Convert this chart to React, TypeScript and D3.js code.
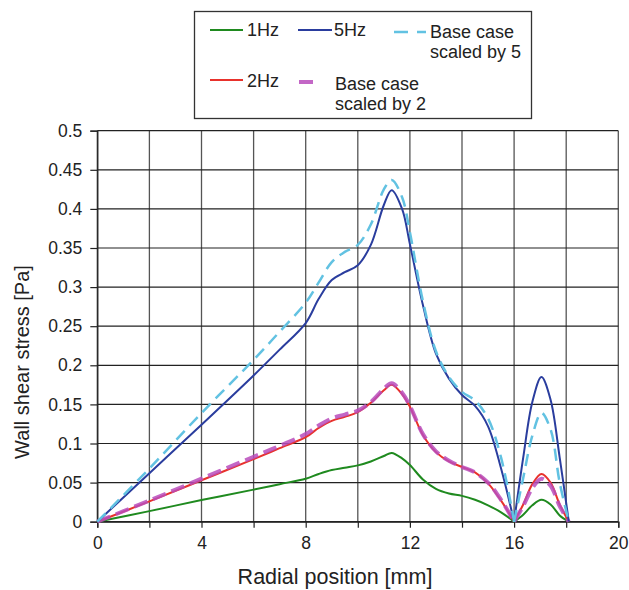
import React, { useEffect, useRef } from "react";
import * as d3 from "d3";

// radial positions (mm) for the main part of the wall and the small outer bump
const xMain = [0, 2, 4, 6, 7, 8, 8.5, 9, 9.5, 10, 10.5, 11, 11.3, 11.7, 12, 12.5, 13, 13.5, 14, 14.5, 15, 15.5, 16];
const xBump = [16, 16.35, 16.7, 17.05, 17.4, 17.75, 18.1];

const hz1Main = [0, 0.0135, 0.0277, 0.041, 0.048, 0.055, 0.061, 0.066, 0.069, 0.072, 0.077, 0.084, 0.088, 0.081, 0.0725, 0.054, 0.042, 0.036, 0.033, 0.028, 0.021, 0.012, 0];
const hz2Main = [0, 0.026, 0.053, 0.08, 0.094, 0.108, 0.12, 0.129, 0.134, 0.14, 0.152, 0.168, 0.175, 0.163, 0.147, 0.111, 0.089, 0.077, 0.07, 0.063, 0.049, 0.027, 0];
const hz5Main = [0, 0.062, 0.124, 0.187, 0.22, 0.254, 0.285, 0.309, 0.319, 0.328, 0.354, 0.405, 0.424, 0.4, 0.355, 0.277, 0.215, 0.183, 0.162, 0.148, 0.122, 0.068, 0];
const base2Main = [0, 0.027, 0.055, 0.083, 0.097, 0.112, 0.123, 0.132, 0.137, 0.142, 0.153, 0.17, 0.177, 0.165, 0.148, 0.112, 0.09, 0.078, 0.07, 0.063, 0.05, 0.028, 0];
const base5Main = [0, 0.068, 0.139, 0.207, 0.243, 0.28, 0.306, 0.332, 0.345, 0.354, 0.38, 0.425, 0.437, 0.415, 0.37, 0.282, 0.218, 0.185, 0.166, 0.155, 0.132, 0.082, 0];

const hz1Bump = [0, 0.009, 0.021, 0.028, 0.022, 0.008, 0];
const hz2Bump = [0, 0.022, 0.048, 0.061, 0.05, 0.022, 0];
const hz5Bump = [0, 0.082, 0.153, 0.185, 0.156, 0.082, 0];
const base2Bump = [0, 0.02, 0.043, 0.055, 0.046, 0.02, 0];
const base5Bump = [0, 0.056, 0.11, 0.139, 0.118, 0.05, 0];

const xTicks = [0, 2, 4, 6, 8, 10, 12, 14, 16, 18, 20];
const xTickLabels = [0, 4, 8, 12, 16, 20];
const yTicks = [0, 0.05, 0.1, 0.15, 0.2, 0.25, 0.3, 0.35, 0.4, 0.45, 0.5];

const font = "'Liberation Sans', Arial, Helvetica, sans-serif";

const series = [
  { name: "1Hz", main: hz1Main, bump: hz1Bump, color: "#1f8a1f", width: 2, dash: null, opacity: 1 },
  { name: "2Hz", main: hz2Main, bump: hz2Bump, color: "#e8322c", width: 2, dash: null, opacity: 1 },
  { name: "Base case scaled by 2", main: base2Main, bump: base2Bump, color: "#b94cbc", width: 4, dash: "14,6", opacity: 0.85 },
  { name: "5Hz", main: hz5Main, bump: hz5Bump, color: "#2a3d9e", width: 2, dash: null, opacity: 1 },
  { name: "Base case scaled by 5", main: base5Main, bump: base5Bump, color: "#62c2e2", width: 2.5, dash: "12,7", opacity: 1 },
];

let drawChart = (node: SVGSVGElement) => {
  let svg = d3.select(node);
  svg.selectAll("*").remove();

  let left = 97.3, right = 618.3, top = 130.7, bottom = 521.7;

  let x = d3.scaleLinear().domain([0, 20]).range([left, right]);
  let y = d3.scaleLinear().domain([0, 0.5]).range([bottom, top]);

  // grid
  let grid = svg.append("g");
  grid.selectAll(".vg")
    .data(xTicks)
    .enter()
    .append("line")
    .attr("x1", d => x(d))
    .attr("x2", d => x(d))
    .attr("y1", top)
    .attr("y2", bottom)
    .attr("stroke", "#555")
    .attr("stroke-width", 1.3);
  grid.selectAll(".hg")
    .data(yTicks)
    .enter()
    .append("line")
    .attr("x1", left)
    .attr("x2", right)
    .attr("y1", d => y(d))
    .attr("y2", d => y(d))
    .attr("stroke", "#222")
    .attr("stroke-width", 1.2);

  // axes
  let xAxis = d3.axisBottom(x)
    .tickValues(xTicks)
    .tickSize(6)
    .tickPadding(9)
    .tickFormat(d => (xTickLabels.includes(+d) ? String(d) : ""));
  let gx = svg.append("g")
    .attr("transform", "translate(0," + bottom + ")")
    .call(xAxis);

  let yAxis = d3.axisLeft(y)
    .tickValues(yTicks)
    .tickSize(7)
    .tickPadding(8)
    .tickFormat(d => String(+d));
  let gy = svg.append("g")
    .attr("transform", "translate(" + left + ",0)")
    .call(yAxis);

  [gx, gy].forEach(g => {
    g.select(".domain").attr("stroke", "#222").attr("stroke-width", 1.3);
    g.selectAll(".tick line").attr("stroke", "#222").attr("stroke-width", 1.2);
    g.selectAll(".tick text")
      .attr("fill", "#222")
      .style("font-family", font)
      .style("font-size", "17.5px");
  });

  // series, split at 16 mm so the dip stays sharp
  let line = d3.line<number[]>()
    .x(d => x(d[0]))
    .y(d => y(d[1]))
    .curve(d3.curveCatmullRom.alpha(0.5));

  let plot = svg.append("g");
  series.forEach(s => {
    let parts = [
      xMain.map((v, i) => [v, s.main[i]]),
      xBump.map((v, i) => [v, s.bump[i]]),
    ];
    parts.forEach(p => {
      plot.append("path")
        .attr("d", line(p))
        .attr("fill", "none")
        .attr("stroke", s.color)
        .attr("stroke-width", s.width)
        .attr("stroke-dasharray", s.dash)
        .attr("stroke-opacity", s.opacity)
        .attr("stroke-linejoin", "round");
    });
  });

  // axis titles
  svg.append("text")
    .attr("x", 335)
    .attr("y", 584)
    .attr("text-anchor", "middle")
    .attr("fill", "#222")
    .style("font-family", font)
    .style("font-size", "21.5px")
    .text("Radial position [mm]");

  svg.append("text")
    .attr("transform", "translate(29,362) rotate(-90)")
    .attr("text-anchor", "middle")
    .attr("fill", "#222")
    .style("font-family", font)
    .style("font-size", "20px")
    .text("Wall shear stress [Pa]");

  // legend
  let lg = svg.append("g");
  lg.append("rect")
    .attr("x", 194.5)
    .attr("y", 11.5)
    .attr("width", 337)
    .attr("height", 107)
    .attr("fill", "#fff")
    .attr("stroke", "#333")
    .attr("stroke-width", 1.3);

  let items = [
    { s: series[0], x1: 210, x2: 243, ly: 30, tx: 247, lines: ["1Hz"], ty: 36 },
    { s: series[3], x1: 298, x2: 332, ly: 30, tx: 334, lines: ["5Hz"], ty: 36 },
    { s: series[4], x1: 394, x2: 426, ly: 32, tx: 430, lines: ["Base case", "scaled by 5"], ty: 38 },
    { s: series[1], x1: 210, x2: 243, ly: 80, tx: 247, lines: ["2Hz"], ty: 87 },
    { s: series[2], x1: 299, x2: 322, ly: 82, tx: 335, lines: ["Base case", "scaled by 2"], ty: 90 },
  ];
  items.forEach(it => {
    lg.append("line")
      .attr("x1", it.x1)
      .attr("x2", it.x2)
      .attr("y1", it.ly)
      .attr("y2", it.ly)
      .attr("stroke", it.s.color)
      .attr("stroke-width", it.s.width)
      .attr("stroke-dasharray", it.s.dash ? "14,9" : null)
      .attr("stroke-opacity", it.s.opacity);
    let t = lg.append("text")
      .attr("x", it.tx)
      .attr("y", it.ty)
      .attr("fill", "#222")
      .style("font-family", font)
      .style("font-size", "18px");
    it.lines.forEach((l, i) => {
      t.append("tspan")
        .attr("x", it.tx)
        .attr("dy", i === 0 ? 0 : 20)
        .text(l);
    });
  });
};

export default function App() {
  const ref = useRef<SVGSVGElement>(null);
  useEffect(() => {
    document.body.style.margin = "0";
    if (ref.current) drawChart(ref.current);
  }, []);
  return <svg ref={ref} width={629} height={590} style={{ display: "block", background: "#fff" }} />;
}
